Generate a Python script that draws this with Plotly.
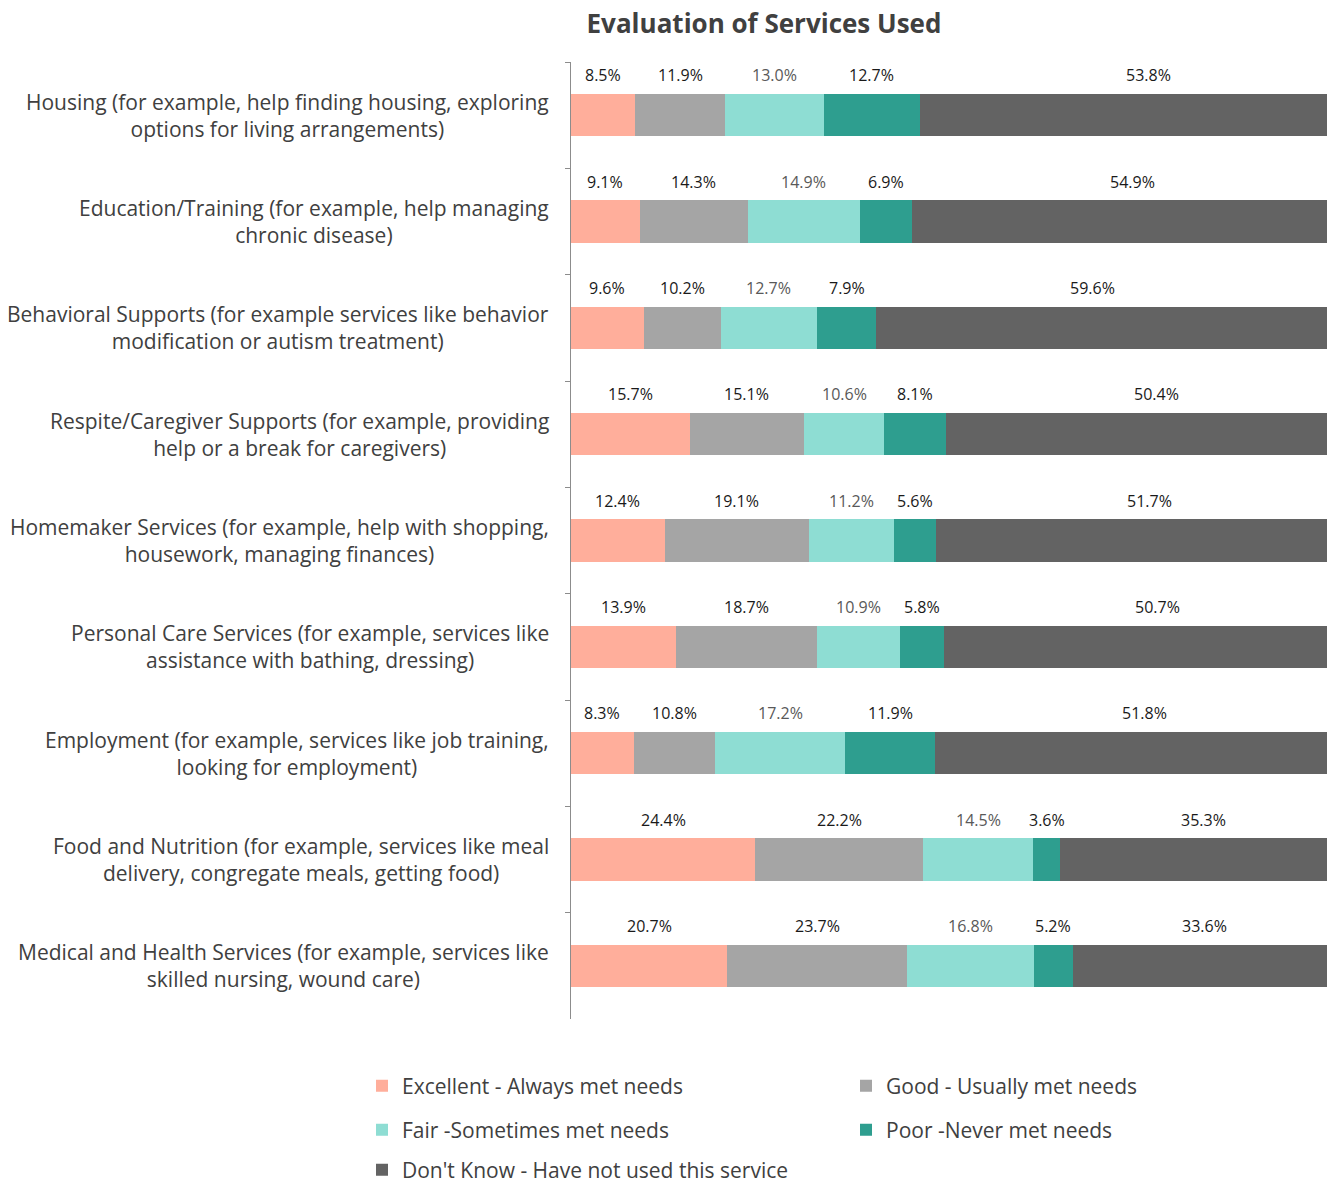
import plotly.graph_objects as go

categories = [
    "Housing (for example, help finding housing, exploring<br>options for living arrangements)",
    "Education/Training (for example, help managing<br>chronic disease)",
    "Behavioral Supports (for example services like behavior<br>modification or autism treatment)",
    "Respite/Caregiver Supports (for example, providing<br>help or a break for caregivers)",
    "Homemaker Services (for example, help with shopping,<br>housework, managing finances)",
    "Personal Care Services (for example, services like<br>assistance with bathing, dressing)",
    "Employment (for example, services like job training,<br>looking for employment)",
    "Food and Nutrition (for example, services like meal<br>delivery, congregate meals, getting food)",
    "Medical and Health Services (for example, services like<br>skilled nursing, wound care)",
]

series_names = [
    "Excellent - Always met needs",
    "Good - Usually met needs",
    "Fair -Sometimes met needs",
    "Poor -Never met needs",
    "Don't Know - Have not used this service",
]

excellent = [8.5, 9.1, 9.6, 15.7, 12.4, 13.9, 8.3, 24.4, 20.7]
good = [11.9, 14.3, 10.2, 15.1, 19.1, 18.7, 10.8, 22.2, 23.7]
fair = [13.0, 14.9, 12.7, 10.6, 11.2, 10.9, 17.2, 14.5, 16.8]
poor = [12.7, 6.9, 7.9, 8.1, 5.6, 5.8, 11.9, 3.6, 5.2]
dont_know = [53.8, 54.9, 59.6, 50.4, 51.7, 50.7, 51.8, 35.3, 33.6]

series_values = [excellent, good, fair, poor, dont_know]

# styling
colors = ["#FFAE9B", "#A5A5A5", "#8EDDD3", "#2E9E8F", "#636363"]
label_colors = ["#1A1A1A", "#1A1A1A", "#595959", "#1A1A1A", "#1A1A1A"]
legend_ids = ["legend", "legend2", "legend3", "legend4", "legend5"]
# legend grid placement (pixels in the page): left edge, row centre
legend_left = [362, 846, 362, 846, 362]
legend_row = [1086, 1086, 1130, 1130, 1170]
# manual label nudges (pixels) as placed in the original for the last series
last_label_nudge = [25, 13, -9, 20, 18, 22, 13, 10, 5]

FONT = "Open Sans, Liberation Sans, sans-serif"
W, H = 1332, 1184

fig = go.Figure()
for name, vals, col, lg in zip(series_names, series_values, colors, legend_ids):
    fig.add_trace(go.Bar(
        y=categories, x=vals, name=name, orientation="h",
        marker=dict(color=col, line=dict(width=0)),
        width=0.4, legend=lg, hoverinfo="x+name",
    ))

annotations = []
n_series = len(series_values)
for i, cat in enumerate(categories):
    total = sum(s[i] for s in series_values)
    cum = 0.0
    for k, s in enumerate(series_values):
        v = s[i] / total * 100
        annotations.append(dict(
            x=cum + v / 2, y=cat, xref="x", yref="y",
            text=f"{s[i]:.1f}%", showarrow=False, yshift=40,
            xshift=last_label_nudge[i] if k == n_series - 1 else 0,
            font=dict(family=FONT, size=16, color=label_colors[k]),
        ))
        cum += v
    annotations.append(dict(
        x=0, y=cat, xref="paper", yref="y", xanchor="right", align="center",
        xshift=-20, text=cat, showarrow=False,
        font=dict(family=FONT, size=21, color="#404040"),
    ))

legends = {}
for lg, lx, ly in zip(legend_ids, legend_left, legend_row):
    legends[lg] = dict(
        orientation="h", xanchor="left", yanchor="middle",
        xref="container", yref="container",
        x=lx / W, y=1 - ly / H,
        font=dict(family=FONT, size=21, color="#404040"),
        bgcolor="rgba(0,0,0,0)", itemclick=False, itemdoubleclick=False,
    )

fig.update_layout(
    width=W, height=H,
    margin=dict(l=571, r=5, t=62, b=165),
    paper_bgcolor="white", plot_bgcolor="white",
    barmode="stack", barnorm="percent",
    title=dict(text="<b>Evaluation of Services Used</b>", x=764 / W, xanchor="center",
               xref="container", y=1 - 24 / H, yanchor="middle", yref="container",
               font=dict(family=FONT, size=26, color="#404040")),
    xaxis=dict(range=[0, 100], visible=False, fixedrange=True),
    yaxis=dict(
        autorange=False, range=[len(categories) - 0.5, -0.5],
        showticklabels=False, showline=True, linecolor="#8C8C8C", linewidth=1,
        ticks="outside", tickson="boundaries", ticklen=5, tickcolor="#8C8C8C",
        showgrid=False, zeroline=False, fixedrange=True,
    ),
    annotations=annotations,
    showlegend=True,
    **legends,
)

fig.write_html("out.html")
